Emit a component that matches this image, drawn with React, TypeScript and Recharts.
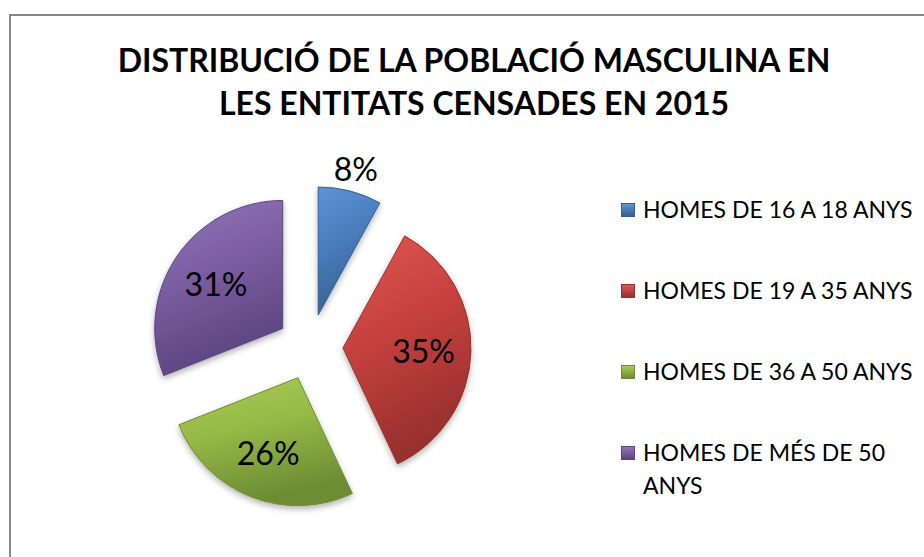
import { Cell, Legend, Pie, PieChart, Sector } from "recharts";

const categories = [
	"HOMES DE 16 A 18 ANYS",
	"HOMES DE 19 A 35 ANYS",
	"HOMES DE 36 A 50 ANYS",
	"HOMES DE MÉS DE 50 ANYS",
];
const shares = [8, 35, 26, 31];
const titleLines = [
	"DISTRIBUCIÓ DE LA POBLACIÓ MASCULINA EN",
	"LES ENTITATS CENSADES EN 2015",
];

const colors = ["#4A7EBF", "#C8423F", "#97BA47", "#7D5FA3"];
const lightColors = ["#5E93D6", "#DE5754", "#A9CC5A", "#9276B8"];
const darkColors = ["#35608F", "#98302D", "#6E8C33", "#5B4480"];

const data = categories.map((name, i) => ({ name, value: shares[i] }));

const RADIAN = Math.PI / 180;
const EXPLODE = 33;
const FONT = "Lato, Carlito, Calibri, sans-serif";

const shift = (midAngle: number, dist: number) => ({
	x: Math.cos(-midAngle * RADIAN) * dist,
	y: Math.sin(-midAngle * RADIAN) * dist,
});

const ExplodedSlice = (props: any) => {
	const { cx, cy, midAngle, innerRadius, outerRadius, startAngle, endAngle, fill, index } =
		props;
	const d = shift(midAngle, EXPLODE);
	return (
		<Sector
			cx={cx + d.x}
			cy={cy + d.y}
			innerRadius={innerRadius}
			outerRadius={outerRadius}
			startAngle={startAngle}
			endAngle={endAngle}
			fill={fill}
			stroke={darkColors[index % darkColors.length]}
			strokeWidth={1}
			filter="url(#sliceShadow)"
		/>
	);
};

const renderLabel = (props: any) => {
	const { cx, cy, midAngle, outerRadius, percent } = props;
	const c = shift(midAngle, EXPLODE);
	// small slices get their label outside, the rest inside
	const r = percent < 0.1 ? outerRadius + 23 : outerRadius * 0.63;
	const p = shift(midAngle, r);
	return (
		<text
			x={cx + c.x + p.x}
			y={cy + c.y + p.y}
			textAnchor="middle"
			dominantBaseline="central"
			fill="#000"
			fontFamily={FONT}
			fontSize={32}
		>
			{`${Math.round(percent * 100)}%`}
		</text>
	);
};

const LegendList = ({ payload }: any) => (
	<div style={{ fontFamily: FONT, fontSize: 23, lineHeight: "33px", color: "#000" }}>
		{(payload || []).map((entry: any, i: number) => (
			<div key={entry.value} style={{ display: "flex", alignItems: "flex-start", marginBottom: 48 }}>
				<div
					style={{
						width: 14,
						height: 14,
						marginTop: 10,
						marginRight: 8,
						flexShrink: 0,
						background: `linear-gradient(${lightColors[i]}, ${darkColors[i]})`,
						border: `1px solid ${darkColors[i]}`,
						boxSizing: "border-box",
					}}
				/>
				<span style={{ width: 275 }}>{entry.value}</span>
			</div>
		))}
	</div>
);

export default function App() {
	return (
		<div style={{ position: "absolute", left: 0, top: 0, width: 924, height: 557, overflow: "hidden", background: "#fff" }}>
			<div
				style={{
					position: "absolute",
					left: 9,
					top: 14,
					width: 960,
					height: 600,
					border: "2px solid #878787",
				}}
			/>
			<div
				style={{
					position: "absolute",
					left: 0,
					top: 38,
					width: 948,
					textAlign: "center",
					fontFamily: FONT,
					fontWeight: 700,
					fontSize: 32,
					lineHeight: "43px",
					color: "#000",
				}}
			>
				{titleLines.map((line) => (
					<div key={line}>{line}</div>
				))}
			</div>
			<div style={{ position: "absolute", left: 0, top: 0 }}>
				<PieChart width={924} height={557}>
					<defs>
						{colors.map((c, i) => (
							<linearGradient key={c} id={`slice${i}`} x1="0" y1="0" x2="0.3" y2="1">
								<stop offset="0%" stopColor={lightColors[i]} />
								<stop offset="45%" stopColor={c} />
								<stop offset="100%" stopColor={darkColors[i]} />
							</linearGradient>
						))}
						<filter id="sliceShadow" x="-20%" y="-20%" width="140%" height="140%">
							<feDropShadow dx="0" dy="3" stdDeviation="3" floodColor="#000" floodOpacity="0.3" />
						</filter>
					</defs>
					<Pie
						data={data}
						dataKey="value"
						nameKey="name"
						cx={305}
						cy={342}
						outerRadius={128}
						startAngle={90}
						endAngle={-270}
						shape={ExplodedSlice}
						label={renderLabel}
						labelLine={false}
						isAnimationActive={false}
					>
						{data.map((entry, i) => (
							<Cell key={entry.name} fill={`url(#slice${i})`} />
						))}
					</Pie>
					<Legend
						layout="vertical"
						content={LegendList}
						wrapperStyle={{ left: 621, top: 193, width: 300 }}
					/>
				</PieChart>
			</div>
		</div>
	);
}
